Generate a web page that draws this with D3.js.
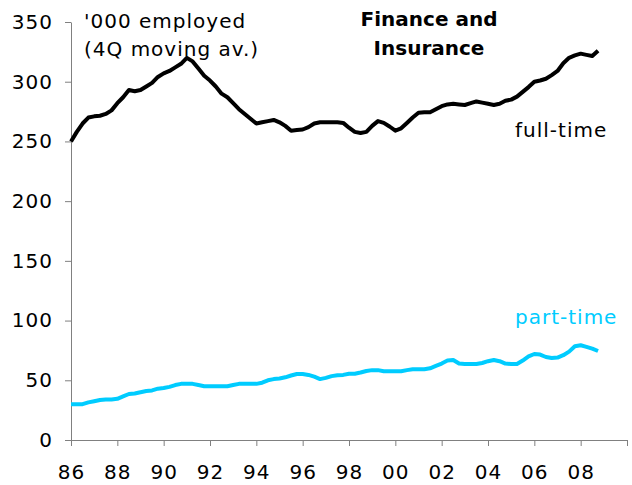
<!DOCTYPE html>
<html>
<head>
<meta charset="utf-8">
<script src="https://cdn.jsdelivr.net/npm/d3@7"></script>
<style>
  body { margin: 0; background: #fff; }
  svg text { font-family: "DejaVu Sans", Verdana, sans-serif; }
</style>
</head>
<body>
<svg id="chart" width="632" height="485"></svg>
<script>
// quarterly, 1986 Q1 .. 2008 Q4
const quarters = d3.range(92).map(i => 86 + i / 4);

// '000 employed, 4Q moving average
const fullTime = [
  250, 258, 265, 270, 271, 271.5, 273, 276,
  282, 287, 293, 292, 293, 296, 299, 304,
  307, 309, 312, 315, 320, 317, 311, 305,
  301, 296, 290, 287, 282, 277, 273, 269,
  265, 266, 267, 268, 266, 263, 259, 259.5,
  260, 262, 265, 266, 266, 266, 266, 265.5,
  261.5, 258, 257, 258, 263, 267, 265.5, 262.5,
  259, 261, 265.5, 270, 274, 274.5, 274.5, 277,
  279.5, 281, 281.5, 281, 280.5, 282, 283.5, 282.5,
  281.5, 280.5, 281.5, 284, 285, 287.5, 291.5, 295.5,
  300, 301, 302.5, 305.5, 309, 315.5, 320, 322,
  323.5, 322.5, 321.5, 326
];

const partTime = [
  30, 30, 30, 31.5, 32.5, 33.5, 34, 34,
  34.5, 36.5, 38.5, 39, 40, 41, 41.5, 43,
  43.5, 44.5, 46, 47, 47, 47, 46, 45,
  45, 45, 45, 45, 46, 47, 47, 47,
  47, 48, 50, 51, 51.5, 52.5, 54, 55.3,
  55.3, 54.5, 53, 51, 52, 53.5, 54.2, 54.5,
  55.5, 55.5, 56.5, 57.8, 58.5, 58.5, 57.5, 57.5,
  57.5, 57.5, 58.5, 59.2, 59.2, 59.2, 60, 62,
  64, 66.5, 67, 64, 63.6, 63.6, 63.6, 64.5,
  66, 67, 66, 64, 63.6, 63.6, 66.5, 70,
  72, 71.5, 69.5, 68.7, 69, 71, 74, 78.5,
  79.3, 78, 76.5, 74.5
];

const yTicks = [0, 50, 100, 150, 200, 250, 300, 350];
const xTicks = d3.range(86, 111, 2);
const xTickLabels = ["86", "88", "90", "92", "94", "96", "98", "00", "02", "04", "06", "08"];

const svg = d3.select("#chart");
const axisColor = "#808080";
const cyan = "#00ccff";

const x = d3.scaleLinear().domain([86, 110]).range([71, 627]);
const y = d3.scaleLinear().domain([0, 350]).range([440, 22]);

// y axis
const yAxis = svg.append("g")
  .attr("transform", "translate(71,0)")
  .call(d3.axisLeft(y).tickValues(yTicks).tickSize(6).tickPadding(12).tickSizeOuter(0));
yAxis.select(".domain").attr("stroke", axisColor);
yAxis.selectAll(".tick line").attr("stroke", axisColor);
yAxis.selectAll("text")
  .attr("fill", "#000")
  .style("font-size", "20px")
  .style("letter-spacing", "1px")
  .style("font-family", "DejaVu Sans, Verdana, sans-serif");

// x axis
const xAxis = svg.append("g")
  .attr("transform", "translate(0,440)")
  .call(d3.axisBottom(x).tickValues(xTicks).tickSize(6).tickPadding(19).tickSizeOuter(0)
    .tickFormat((d, i) => xTickLabels[i] || ""));
xAxis.select(".domain").attr("stroke", axisColor);
xAxis.selectAll(".tick line").attr("stroke", axisColor);
xAxis.selectAll("text")
  .attr("fill", "#000")
  .style("font-size", "20px")
  .style("letter-spacing", "1px")
  .style("font-family", "DejaVu Sans, Verdana, sans-serif");

// lines
const line = d3.line()
  .x((d, i) => x(quarters[i]))
  .y(d => y(d));

svg.append("path")
  .datum(fullTime)
  .attr("d", line)
  .attr("fill", "none")
  .attr("stroke", "#000")
  .attr("stroke-width", 4)
  .attr("stroke-linejoin", "round");

svg.append("path")
  .datum(partTime)
  .attr("d", line)
  .attr("fill", "none")
  .attr("stroke", cyan)
  .attr("stroke-width", 4)
  .attr("stroke-linejoin", "round");

// annotations
const note = svg.append("g")
  .style("font-size", "20px")
  .style("letter-spacing", "1px");
note.append("text").attr("x", 84).attr("y", 28).text("'000 employed");
note.append("text").attr("x", 84).attr("y", 56).text("(4Q moving av.)");
note.append("text").attr("x", 515).attr("y", 137).text("full-time");
note.append("text").attr("x", 515).attr("y", 324).attr("fill", cyan).text("part-time");

const title = svg.append("g")
  .attr("text-anchor", "middle")
  .style("font-family", "Liberation Sans, Arial, sans-serif")
  .style("font-weight", "bold")
  .style("font-size", "20px");
title.append("text").attr("x", 429).attr("y", 26).text("Finance and");
title.append("text").attr("x", 429).attr("y", 55).text("Insurance");
</script>
</body>
</html>
